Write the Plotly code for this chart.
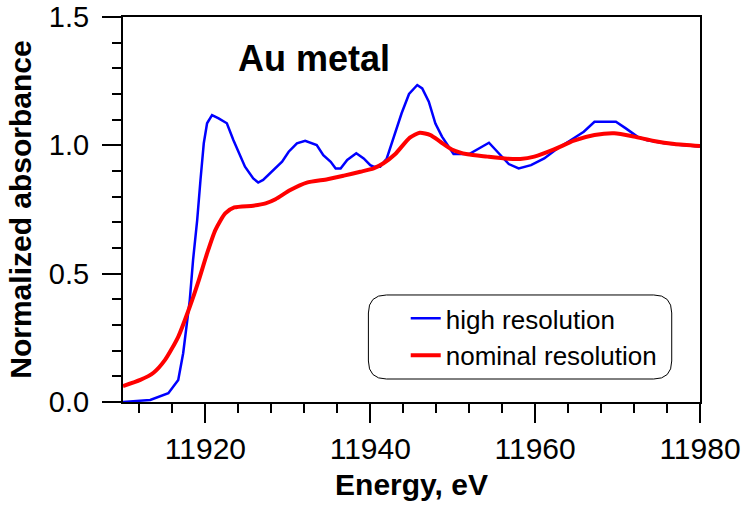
import plotly.graph_objects as go

# high resolution spectrum
energy_high = [11910, 11913.3, 11915.5, 11916.7, 11917.3, 11917.7, 11918.1, 11918.5, 11919.0,
               11919.4, 11919.8, 11920.2, 11920.8, 11921.6, 11922.6, 11923.4, 11924.0, 11924.8,
               11925.8, 11926.4, 11927.0, 11928.3, 11929.3, 11930.1, 11931.1, 11932.1, 11932.7,
               11933.5, 11934.3, 11935.2, 11935.8, 11936.4, 11937.2, 11938.3, 11939.2, 11940.0,
               11940.4, 11941.2, 11942.0, 11942.8, 11943.8, 11944.7, 11945.7, 11946.3, 11947.1,
               11947.9, 11948.7, 11950.1, 11952.0, 11954.4, 11955.4, 11956.8, 11958.0, 11959.5,
               11961.1, 11962.7, 11964.3, 11965.9, 11967.2, 11969.8, 11971.0, 11972.4, 11973.6,
               11975.7, 11977.7, 11980]
abs_high = [0.0, 0.008, 0.034, 0.086, 0.19, 0.293, 0.397, 0.553, 0.709,
            0.865, 1.008, 1.086, 1.118, 1.105, 1.086, 1.02, 0.975, 0.917,
            0.871, 0.855, 0.865, 0.904, 0.936, 0.975, 1.008, 1.018, 1.01,
            1.001, 0.962, 0.936, 0.91, 0.91, 0.943, 0.969, 0.949, 0.923,
            0.917, 0.917, 0.949, 1.025, 1.125, 1.2, 1.235, 1.222, 1.17,
            1.085, 1.034, 0.966, 0.966, 1.01, 0.975, 0.927, 0.91, 0.923,
            0.949, 0.988, 1.02, 1.053, 1.092, 1.092, 1.066, 1.034, 1.02,
            1.008, 1.001, 0.995]

# nominal resolution spectrum
energy_nom = [11910, 11912.1, 11913.7, 11915.1, 11916.7, 11918.1, 11919.2, 11920.2, 11921.2,
              11922.4, 11923.5, 11925.8, 11927.3, 11928.5, 11930.3, 11932.3, 11934.8, 11936.8,
              11938.8, 11940.4, 11941.6, 11943.0, 11944.8, 11946.0, 11947.3, 11948.5, 11949.9,
              11951.8, 11954.2, 11956.6, 11958.2, 11959.9, 11962.3, 11964.7, 11967.2, 11969.6,
              11972.0, 11974.4, 11976.9, 11980]
abs_nom = [0.062, 0.086, 0.114, 0.164, 0.254, 0.371, 0.475, 0.579, 0.67,
           0.735, 0.758, 0.765, 0.774, 0.79, 0.826, 0.855, 0.868, 0.882,
           0.897, 0.91, 0.93, 0.965, 1.03, 1.049, 1.04, 1.014, 0.984,
           0.965, 0.956, 0.948, 0.947, 0.956, 0.984, 1.018, 1.04, 1.047,
           1.034, 1.017, 1.005, 0.997]

FONT = 'Liberation Sans, Arial, sans-serif'

data = [
    go.Scatter(x=energy_high, y=abs_high, mode='lines', name='high resolution',
               line=dict(color='#0000ff', width=2.5)),
    go.Scatter(x=energy_nom, y=abs_nom, mode='lines', name='nominal resolution',
               line=dict(color='#ff0000', width=4, shape='spline', smoothing=0.6)),
]

axis_common = dict(showline=True, linecolor='black', linewidth=2, mirror=True,
                   ticks='outside', ticklen=19, tickwidth=2, tickcolor='black',
                   showgrid=False, zeroline=False, automargin=False,
                   ticklabeloverflow='allow')

layout = go.Layout(
    width=749, height=509,
    margin=dict(l=123, r=49, t=17, b=107),
    plot_bgcolor='white', paper_bgcolor='white',
    font=dict(family=FONT, color='black'),
    xaxis=dict(range=[11910, 11980], dtick=20, tick0=11900, tickformat='d',
               tickfont=dict(size=30),
               minor=dict(dtick=4, tick0=11900, ticks='outside', ticklen=9,
                          tickwidth=2, tickcolor='black'),
               title=dict(text='<b>Energy, eV</b>', font=dict(size=30), standoff=10),
               **axis_common),
    yaxis=dict(range=[0, 1.5], dtick=0.5, tickformat='.1f',
               tickfont=dict(size=29), ticklabelstandoff=7,
               minor=dict(dtick=0.1, ticks='outside', ticklen=9,
                          tickwidth=2, tickcolor='black'),
               title=dict(text='<b>Normalized absorbance</b>', font=dict(size=30), standoff=8),
               **axis_common),
    legend=dict(x=0.49, y=0.278, xanchor='left', yanchor='top',
                bgcolor='rgba(0,0,0,0)', font=dict(size=26), tracegroupgap=0),
    annotations=[dict(text='<b>Au metal</b>', x=0.3316, y=0.8935, xref='paper', yref='paper',
                      xanchor='center', yanchor='middle',
                      showarrow=False, font=dict(size=36))],
    shapes=[dict(type='path', xref='paper', yref='paper',
                 path='M 0.4566 0.278 L 0.9198 0.278 Q 0.951 0.278 0.951 0.2312 '
                      'L 0.951 0.1065 Q 0.951 0.0597 0.9198 0.0597 L 0.4566 0.0597 '
                      'Q 0.4253 0.0597 0.4253 0.1065 L 0.4253 0.2312 Q 0.4253 0.278 0.4566 0.278 Z',
                 line=dict(color='black', width=1))],
)

fig = go.Figure(data, layout)
# drop the default 8px page margin so the figure sits at the window corner
fig.write_html('out.html', config={'displayModeBar': False},
               post_script="document.body.style.margin='0';")
